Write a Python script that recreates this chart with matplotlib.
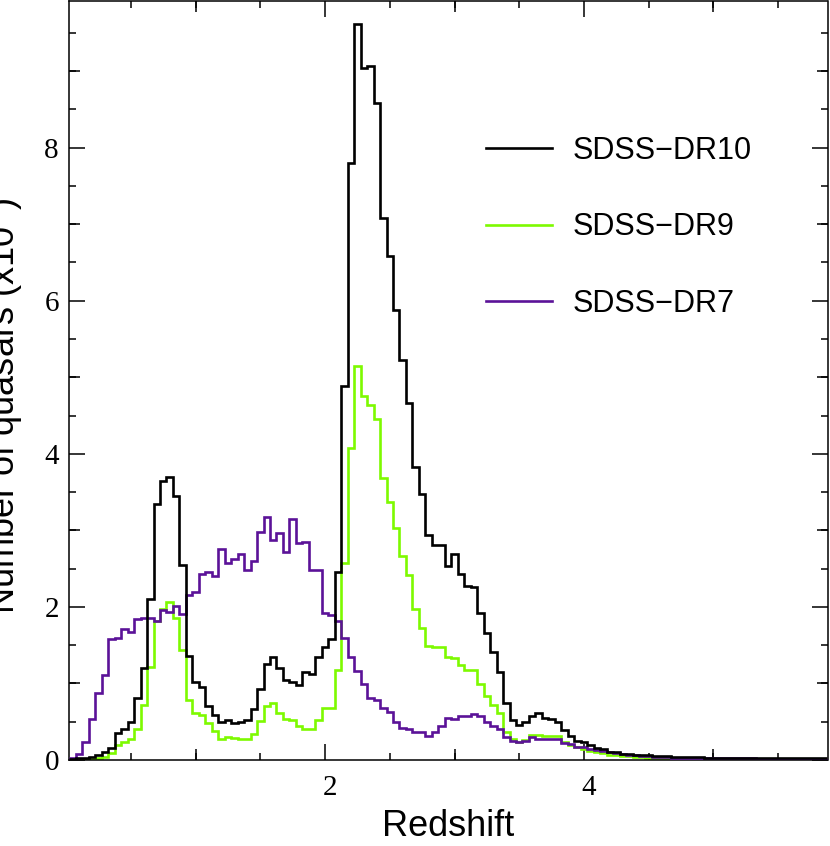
import numpy as np
import matplotlib
matplotlib.use("Agg")
import matplotlib.pyplot as plt
from matplotlib.ticker import MultipleLocator, NullFormatter
from matplotlib.font_manager import FontProperties
from matplotlib.transforms import ScaledTranslation

# redshift histograms, bin width 0.05, bin centres 0.05 ... 5.85 (units of 10^3 quasars)
BIN_WIDTH = 0.05
FIRST_EDGE = 0.025

dr10 = [
    0.01, 0.02, 0.03, 0.04, 0.07, 0.10, 0.16, 0.35, 0.40, 0.50,
    0.81, 1.20, 2.11, 3.35, 3.65, 3.70, 3.45, 2.55, 1.36, 1.02,
    0.95, 0.70, 0.59, 0.50, 0.52, 0.48, 0.50, 0.52, 0.66, 0.93,
    1.25, 1.34, 1.20, 1.05, 1.02, 0.98, 1.15, 1.13, 1.35, 1.47,
    1.58, 2.45, 4.88, 7.80, 9.62, 9.04, 9.07, 8.59, 7.08, 6.58,
    5.88, 5.22, 4.67, 3.83, 3.48, 2.94, 2.81, 2.81, 2.53, 2.69,
    2.43, 2.27, 2.26, 1.92, 1.66, 1.41, 1.15, 0.75, 0.52, 0.46,
    0.50, 0.57, 0.62, 0.55, 0.53, 0.50, 0.39, 0.31, 0.25, 0.23,
    0.20, 0.16, 0.14, 0.11, 0.10, 0.08, 0.08, 0.07, 0.06, 0.06,
    0.05, 0.05, 0.05, 0.04, 0.04, 0.04, 0.04, 0.04, 0.03, 0.03,
    0.03, 0.03, 0.03, 0.03, 0.03, 0.03, 0.02, 0.02, 0.02, 0.02,
    0.02, 0.02, 0.02, 0.02, 0.02, 0.02, 0.02,
]

dr9 = [
    0.00, 0.00, 0.01, 0.01, 0.02, 0.04, 0.09, 0.20, 0.23, 0.27,
    0.40, 0.72, 1.21, 1.82, 1.97, 2.06, 1.85, 1.44, 0.79, 0.61,
    0.59, 0.48, 0.38, 0.27, 0.30, 0.29, 0.28, 0.27, 0.34, 0.51,
    0.71, 0.75, 0.62, 0.54, 0.52, 0.45, 0.41, 0.41, 0.52, 0.68,
    0.68, 1.18, 2.57, 4.08, 5.15, 4.76, 4.64, 4.45, 3.69, 3.37,
    3.03, 2.67, 2.42, 1.97, 1.73, 1.49, 1.48, 1.47, 1.35, 1.33,
    1.24, 1.17, 1.17, 0.99, 0.84, 0.72, 0.62, 0.37, 0.27, 0.24,
    0.26, 0.33, 0.33, 0.31, 0.31, 0.31, 0.23, 0.20, 0.17, 0.14,
    0.12, 0.10, 0.09, 0.07, 0.06, 0.05, 0.05, 0.04, 0.04, 0.03,
    0.03, 0.03, 0.02, 0.02, 0.02, 0.02, 0.02, 0.01, 0.01, 0.01,
    0.01, 0.01, 0.01, 0.01, 0.01, 0.01, 0.01, 0.01, 0.01, 0.01,
    0.01, 0.01, 0.01, 0.01, 0.01, 0.01, 0.01,
]

dr7 = [
    0.02, 0.08, 0.23, 0.54, 0.87, 1.11, 1.58, 1.60, 1.71, 1.67,
    1.84, 1.86, 1.86, 1.81, 1.96, 1.94, 2.01, 1.91, 2.15, 2.19,
    2.43, 2.45, 2.41, 2.76, 2.58, 2.63, 2.69, 2.48, 2.60, 2.98,
    3.17, 2.88, 2.97, 2.72, 3.15, 2.83, 2.85, 2.48, 2.48, 1.92,
    1.90, 1.81, 1.60, 1.34, 1.16, 0.99, 0.81, 0.79, 0.68, 0.63,
    0.50, 0.42, 0.41, 0.36, 0.37, 0.31, 0.36, 0.44, 0.55, 0.54,
    0.57, 0.58, 0.60, 0.57, 0.50, 0.44, 0.41, 0.30, 0.25, 0.23,
    0.25, 0.30, 0.28, 0.28, 0.27, 0.27, 0.22, 0.21, 0.17, 0.17,
    0.15, 0.13, 0.12, 0.10, 0.09, 0.08, 0.07, 0.06, 0.05, 0.05,
    0.04, 0.04, 0.04, 0.03, 0.03, 0.03, 0.03, 0.02, 0.02, 0.02,
    0.02, 0.02, 0.02, 0.02, 0.02, 0.02, 0.01, 0.01, 0.01, 0.01,
    0.01, 0.01, 0.01, 0.01, 0.01, 0.01, 0.01,
]

labels = ["SDSS\u2212DR10", "SDSS\u2212DR9", "SDSS\u2212DR7"]
colors = ["#000000", "#7dfa00", "#5b1298"]

W, H = 830, 846
L_PX, R_PX, T_PX, B_PX = 68.7, 827.5, 1.5, 760.0

plt.rcParams["xtick.direction"] = "in"
plt.rcParams["ytick.direction"] = "in"
plt.rcParams["axes.linewidth"] = 1.1

fig = plt.figure(figsize=(W / 100, H / 100), dpi=100)
ax = fig.add_axes([L_PX / W, (H - B_PX) / H, (R_PX - L_PX) / W, (B_PX - T_PX) / H])

edges = FIRST_EDGE + BIN_WIDTH * np.arange(len(dr10) + 1)
handles = []
# draw green first, then purple, black on top
for vals, lab, col, z in [(dr9, labels[1], colors[1], 2), (dr7, labels[2], colors[2], 3), (dr10, labels[0], colors[0], 4)]:
    h = ax.stairs(vals, edges, baseline=None, color=col, lw=1.9, zorder=z, label=lab)
    handles.append(h)
handles = [handles[2], handles[0], handles[1]]

ax.set_xlim(0.02, 5.881)
ax.set_ylim(0, 9.91)

tick_font = FontProperties(family=["Liberation Serif", "DejaVu Serif"], size=21)
sans = ["Liberation Sans", "DejaVu Sans"]

ax.xaxis.set_major_locator(MultipleLocator(2))
ax.xaxis.set_minor_locator(MultipleLocator(0.5))
ax.yaxis.set_major_locator(MultipleLocator(2))
ax.yaxis.set_minor_locator(MultipleLocator(0.5))
ax.xaxis.set_major_formatter(lambda v, p: "" if v == 0 else f"{v:g}")
ax.tick_params(which="both", top=True, right=True, width=1.1)
ax.tick_params(which="major", length=11.5)
ax.tick_params(which="minor", length=5)
ax.tick_params(axis="x", which="major", pad=11)
ax.tick_params(axis="y", which="major", pad=7)

fig.canvas.draw()
shift = ScaledTranslation(5 / 100, 0, fig.dpi_scale_trans)
for t in ax.get_xticklabels():
    t.set_fontproperties(tick_font)
    t.set_transform(t.get_transform() + shift)
for t in ax.get_yticklabels():
    t.set_fontproperties(tick_font)

# middle-length ticks at odd integers
for loc in ("bottom", "top"):
    sec = ax.secondary_xaxis(loc)
    sec.set_xticks([1, 3, 5])
    sec.xaxis.set_major_formatter(NullFormatter())
    sec.tick_params(length=8, width=1.1, direction="in")
    sec.spines[loc].set_visible(False)
for loc in ("left", "right"):
    sec = ax.secondary_yaxis(loc)
    sec.set_yticks([1, 3, 5, 7, 9])
    sec.yaxis.set_major_formatter(NullFormatter())
    sec.tick_params(length=8, width=1.1, direction="in")
    sec.spines[loc].set_visible(False)

ax.set_xlabel("Redshift", family=sans, fontsize=26)
ax.xaxis.set_label_coords(0.5, -0.065)
ax.set_ylabel("Number of quasars (x10$^{3}$)", family=sans, fontsize=26)
ax.yaxis.set_label_coords(-0.058, 0.467)

ax.legend(
    handles, [labels[0], labels[1], labels[2]],
    loc="upper left",
    bbox_to_anchor=(486 / W, 1 - 136 / H),
    bbox_transform=fig.transFigure,
    frameon=False,
    borderpad=0,
    borderaxespad=0,
    handlelength=2.15,
    handletextpad=0.7,
    labelspacing=1.52,
    prop=FontProperties(family=sans, size=22),
)

fig.savefig("out.png", dpi=100)
